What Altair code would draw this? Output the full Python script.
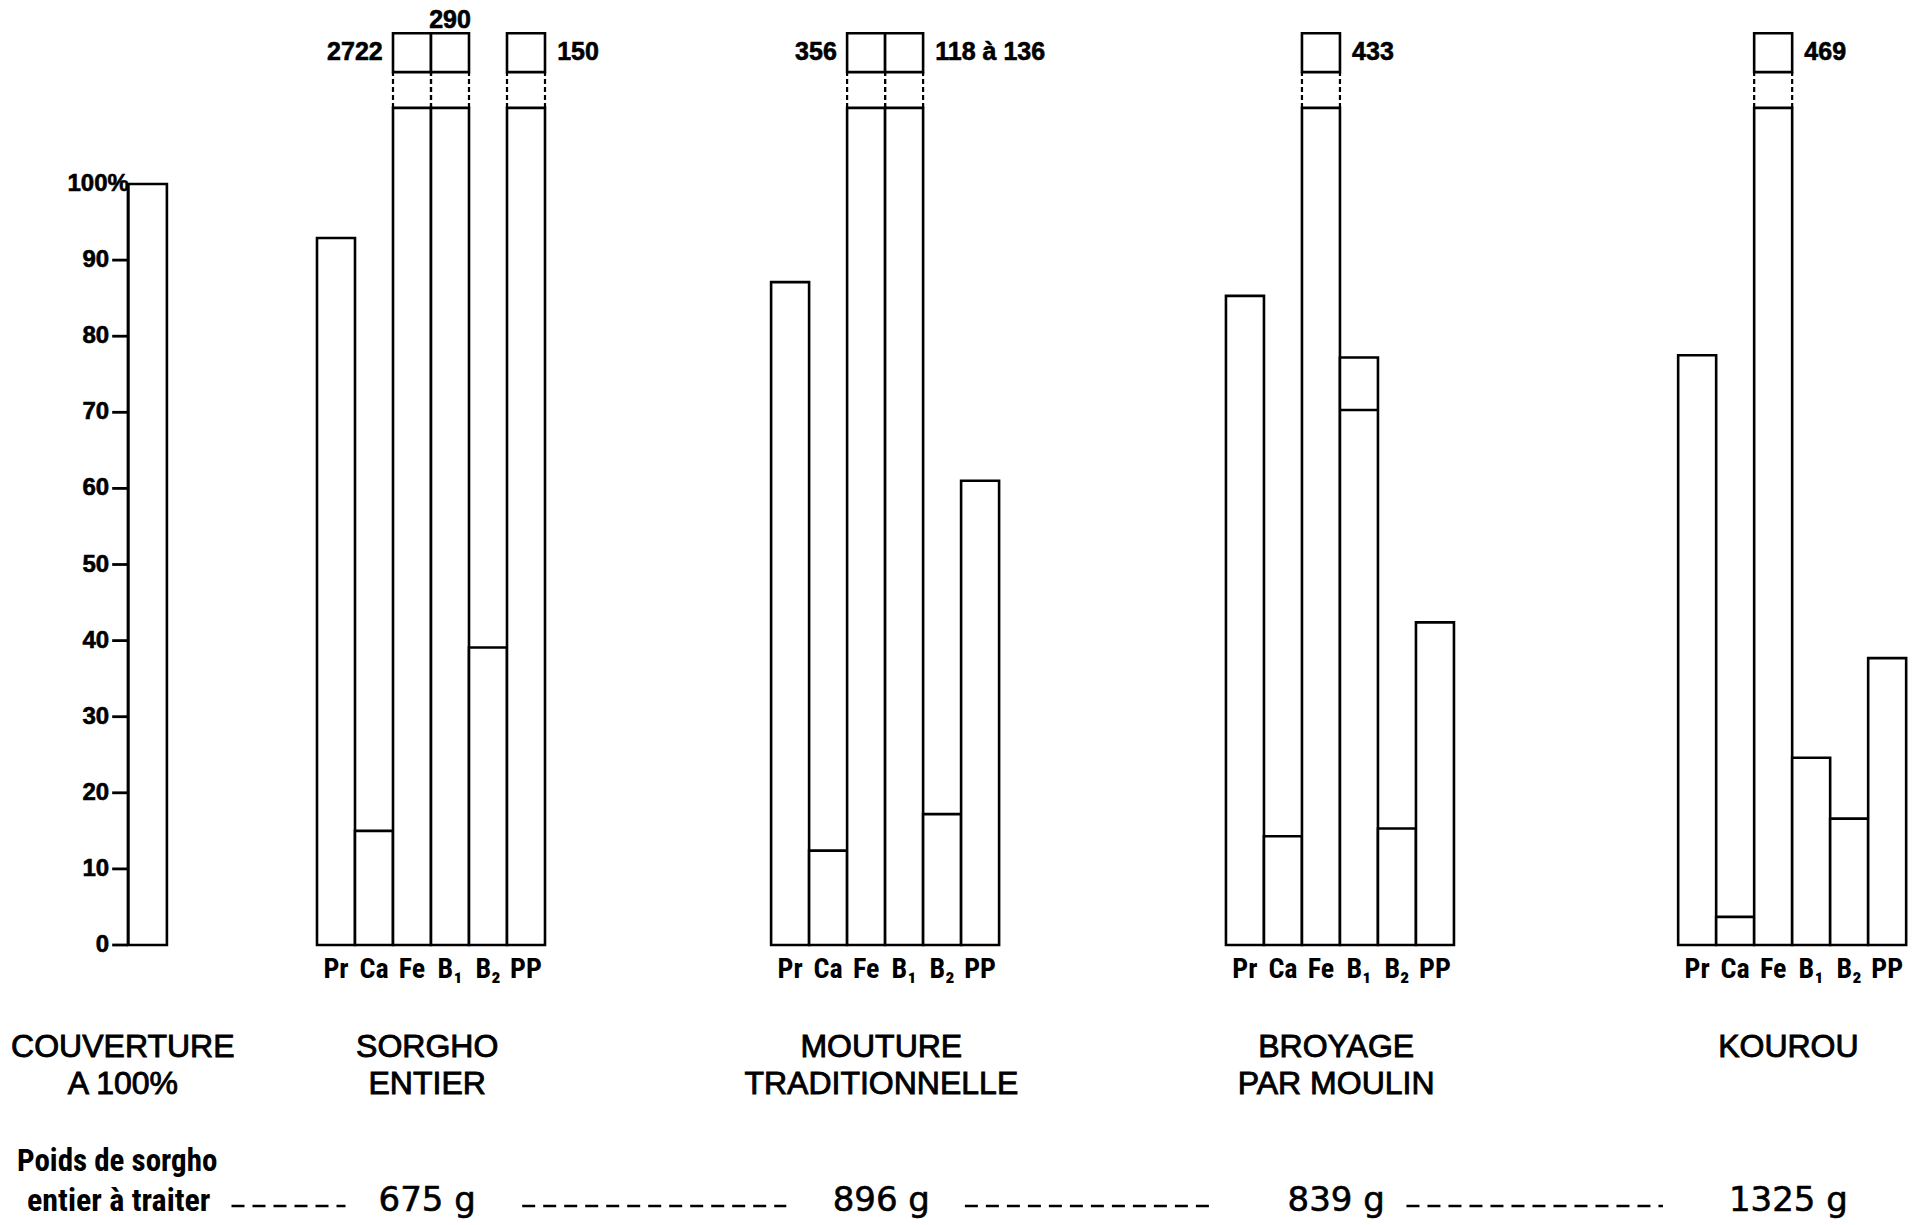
import altair as alt
import pandas as pd

# ---------------- data ----------------
nutrients = ["Pr", "Ca", "Fe", "B\u2081", "B\u2082", "PP"]
group_line1 = ["SORGHO", "MOUTURE", "BROYAGE", "KOUROU"]
group_line2 = ["ENTIER", "TRADITIONNELLE", "PAR MOULIN", ""]
sorgho_entier = [92.9, 15.0, 2722, 290, 39.1, 150]
mouture = [87.1, 12.4, 356, 127, 17.2, 61.0]
broyage = [85.3, 14.3, 433, 77.2, 15.3, 42.4]
kourou = [77.5, 3.7, 469, 24.6, 16.6, 37.7]
broken_labels = [
    ["", "", "2722", "290", "", "150"],
    ["", "", "356", "118 \u00e0 136", "", ""],
    ["", "", "433", "", "", ""],
    ["", "", "469", "", "", ""],
]
broyage_b1_split = 70.3
couverture_value = 100
couverture_line1 = "COUVERTURE"
couverture_line2 = "A 100%"
y_ticks = [0, 10, 20, 30, 40, 50, 60, 70, 80, 90, 100]
weights = ["675 g", "896 g", "839 g", "1325 g"]
weight_caption = ["Poids de sorgho", "entier \u00e0 traiter"]

series = [sorgho_entier, mouture, broyage, kourou]

# ---------------- layout (positions / styles) ----------------
W, H = 1904, 1217
PX = 38.0          # pixels per bar unit
PV = 7.61          # pixels per percent
U_MIN = (8 - 317) / PX
U_MAX = U_MIN + W / PX
V_MAX = (945 - 8) / PV
V_MIN = V_MAX - H / PV
group_offset = [0.0, 11.95, 23.92, 35.82]
cov_x0, cov_x1 = -4.97, -3.95
CAP = 110.0
BOX_LO, BOX_HI = 114.7, 119.8
label_side = {(0, 2): "left", (0, 3): "above", (0, 5): "right",
              (1, 2): "left", (1, 3): "right",
              (2, 2): "right", (3, 2): "right"}
dash_start_gap = [2.4, 2.1, 1.75]
dash_end_gap = [2.25, 2.6, 3.3, 3.4]

NARROW = "Liberation Sans Narrow, Roboto Condensed, DejaVu Sans Condensed, Liberation Sans, sans-serif"
REG = "Liberation Sans, Arial, Helvetica, sans-serif"
BOLD_NUM = "Liberation Sans, Arial, sans-serif"
WIDE = "DejaVu Sans, Verdana, sans-serif"

xs = alt.Scale(domain=[U_MIN, U_MAX], nice=False, zero=False)
ys = alt.Scale(domain=[V_MIN, V_MAX], nice=False, zero=False)


def X(f="x"):
    return alt.X(f"{f}:Q", scale=xs, axis=None)


def Y(f="y"):
    return alt.Y(f"{f}:Q", scale=ys, axis=None)


# bars
bars, boxes, dashes, lab_left, lab_right, lab_above, cats = [], [], [], [], [], [], []
bars.append(dict(x=cov_x0, x2=cov_x1, y=0, y2=couverture_value))
for g, vals in enumerate(series):
    off = group_offset[g]
    for i, v in enumerate(vals):
        x0, x1 = off + i, off + i + 1
        bars.append(dict(x=x0, x2=x1, y=0, y2=min(v, CAP)))
        cats.append(dict(x=(x0 + x1) / 2, y=-3.3, t=nutrients[i]))
        if v > CAP:
            boxes.append(dict(x=x0, x2=x1, y=BOX_LO, y2=BOX_HI))
            dashes.append(dict(x=x0, y=CAP, y2=BOX_LO))
            dashes.append(dict(x=x1, y=CAP, y2=BOX_LO))
            txt = broken_labels[g][i]
            side = label_side.get((g, i), "right")
            if side == "left":
                lab_left.append(dict(x=x0 - 0.27, y=117.3, t=txt))
            elif side == "right":
                lab_right.append(dict(x=x1 + 0.32, y=117.3, t=txt))
            else:
                lab_above.append(dict(x=(x0 + x1) / 2, y=121.6, t=txt))

bars_df = pd.DataFrame(bars + boxes)
dash_df = pd.DataFrame(dashes)
split_df = pd.DataFrame([dict(x=group_offset[2] + 3, x2=group_offset[2] + 4, y=broyage_b1_split)])

stroke = dict(stroke="black", strokeWidth=2.6)

rects = alt.Chart(bars_df).mark_rect(fill="white", **stroke).encode(
    x=X("x"), x2="x2", y=Y("y"), y2="y2")
dash_rules = alt.Chart(dash_df).mark_rule(color="black", strokeWidth=2.2, strokeDash=[5, 3]).encode(
    x=X("x"), y=Y("y"), y2="y2")
split_rule = alt.Chart(split_df).mark_rule(color="black", strokeWidth=2.6).encode(
    x=X("x"), x2="x2", y=Y("y"))


def text_layer(rows, align, font, size, weight="normal", embolden=0.0):
    kw = dict(align=align, baseline="middle", font=font, fontSize=size,
              fontWeight=weight, color="black")
    if embolden > 0:
        kw.update(stroke="black", strokeWidth=embolden)
    return alt.Chart(pd.DataFrame(rows)).mark_text(**kw).encode(
        x=X("x"), y=Y("y"), text="t:N")


num_font = 25
layers = [rects, dash_rules, split_rule]
if lab_left:
    layers.append(text_layer(lab_left, "right", BOLD_NUM, num_font, "bold", 0.6))
if lab_right:
    layers.append(text_layer(lab_right, "left", BOLD_NUM, num_font, "bold", 0.6))
if lab_above:
    layers.append(text_layer(lab_above, "center", BOLD_NUM, num_font, "bold", 0.6))

# y axis drawn with the scale
axis_df = pd.DataFrame([dict(x=cov_x0, y=0, y2=100)])
layers.append(alt.Chart(axis_df).mark_rule(color="black", strokeWidth=2.8).encode(
    x=X("x"), y=Y("y"), y2="y2"))
tick_df = pd.DataFrame([dict(x=cov_x0 - 0.42, x2=cov_x0, y=t) for t in y_ticks if t < 100])
layers.append(alt.Chart(tick_df).mark_rule(color="black", strokeWidth=2.8).encode(
    x=X("x"), x2="x2", y=Y("y")))
tick_lab = [dict(x=cov_x0 - 0.5, y=t, t=str(t)) for t in y_ticks if t < 100]
layers.append(text_layer(tick_lab, "right", BOLD_NUM, 24, "bold", 0.6))
layers.append(text_layer([dict(x=cov_x0 + 0.02, y=100, t=f"{y_ticks[-1]}%")],
                         "right", BOLD_NUM, 24, "bold", 0.6))

# category labels
layers.append(text_layer(cats, "center", NARROW, 28, "bold"))

# group titles
gc = [group_offset[g] + 3 for g in range(4)]
t1 = [dict(x=(cov_x0 + cov_x1) / 2 - 0.65, y=-13.4, t=couverture_line1)]
t2 = [dict(x=(cov_x0 + cov_x1) / 2 - 0.65, y=-18.3, t=couverture_line2)]
for g in range(4):
    t1.append(dict(x=gc[g] - 0.1, y=-13.4, t=group_line1[g]))
    if group_line2[g]:
        t2.append(dict(x=gc[g] - 0.1, y=-18.3, t=group_line2[g]))
layers.append(text_layer(t1, "center", REG, 32, embolden=0.9))
layers.append(text_layer(t2, "center", REG, 32, embolden=0.9))

# weights row
layers.append(text_layer([dict(x=U_MIN + 9 / PX, y=-28.5, t=weight_caption[0])], "left", NARROW, 31, "bold"))
layers.append(text_layer([dict(x=U_MIN + 19 / PX, y=-33.7, t=weight_caption[1])], "left", NARROW, 32, "bold"))
layers.append(text_layer([dict(x=gc[g] - 0.1, y=-33.7, t=weights[g]) for g in range(4)],
                         "center", WIDE, 34, embolden=0.6))
dash_rows = [dict(x=-2.25, x2=gc[0] - dash_end_gap[0], y=-34.3)]
for g in range(3):
    dash_rows.append(dict(x=gc[g] + dash_start_gap[g], x2=gc[g + 1] - dash_end_gap[g + 1], y=-34.3))
layers.append(alt.Chart(pd.DataFrame(dash_rows)).mark_rule(
    color="black", strokeWidth=2.4, strokeDash=[13, 8]).encode(x=X("x"), x2="x2", y=Y("y")))

chart = alt.layer(*layers).properties(
    width=W, height=H, padding=0, autosize="none", background="white"
).configure_view(stroke=None)

chart.save("out.html", embed_options={"renderer": "svg", "actions": False})
